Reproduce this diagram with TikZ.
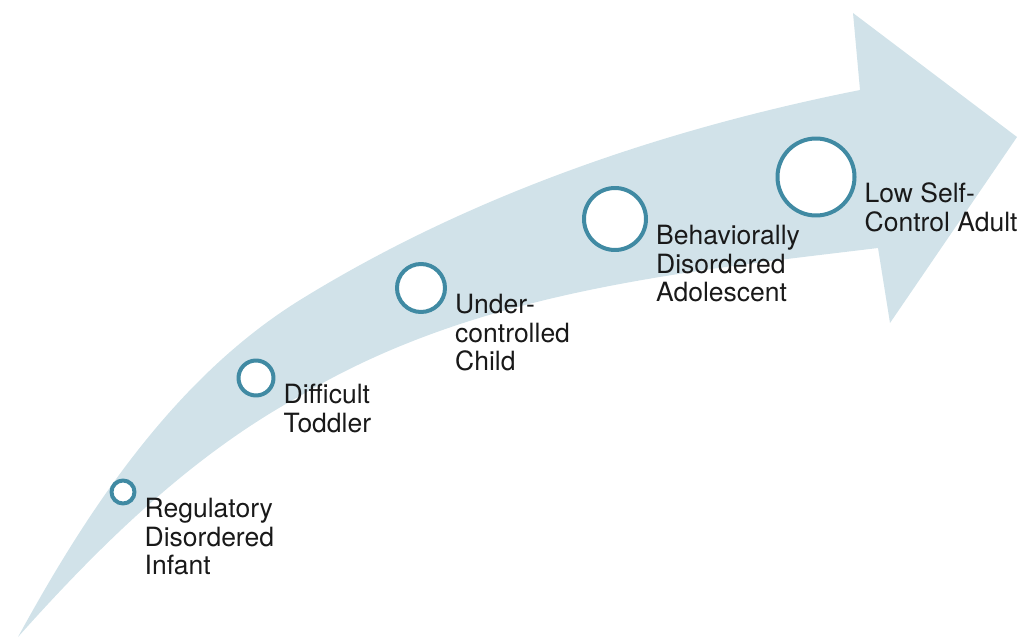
\documentclass[tikz,border=0pt]{standalone}
\usepackage{fontspec}
\setmainfont{TeX Gyre Heros}
\usetikzlibrary{positioning}

\definecolor{bandblue}{RGB}{209,226,233}
\definecolor{ringteal}{RGB}{64,138,163}
\definecolor{labelgray}{RGB}{25,25,25}

\tikzset{
  band/.style={fill=bandblue},
  stage/.style={circle, draw=ringteal, line width=4pt, fill=white, inner sep=0pt},
  stagelabel/.style={align=left, inner sep=0pt, text=labelgray,
                     font=\fontsize{26.5}{28.5}\selectfont}
}

\begin{document}
\begin{tikzpicture}[x=1pt, y=-1pt, line join=round]

    \useasboundingbox (0,0) rectangle (1025,639);

    % curved arrow: upper edge, head, lower edge back to the tail
    \fill [band] (18,637)
        .. controls (89,507) and (176,377) .. (300,300)
        .. controls (470,195) and (664,129) .. (860,90)
        -- (853,13) -- (1017,137) -- (890,323) -- (878,248)
        .. controls (680,272) and (474,292) .. (300,396)
        .. controls (192,455) and (101,544) .. (18,637)
        -- cycle;

    \foreach \n/\cx/\cy/\d/\txt in {%
        1/123/492/23/{Regulatory\\Disordered\\Infant},
        2/256/378/35/{Difficult\\Toddler},
        3/421/288/48/{Under-\\controlled\\Child},
        4/615/219/62/{Behaviorally\\Disordered\\Adolescent},
        5/816/177/77/{Low Self-\\Control Adult}}{

        \node [stage, minimum size=\d pt] (c\n) at (\cx,\cy) {};
        \node [stagelabel, right=8pt of c\n.east, anchor=north west,
               yshift=-6pt] (l\n) {\txt};
    }

\end{tikzpicture}
\end{document}
